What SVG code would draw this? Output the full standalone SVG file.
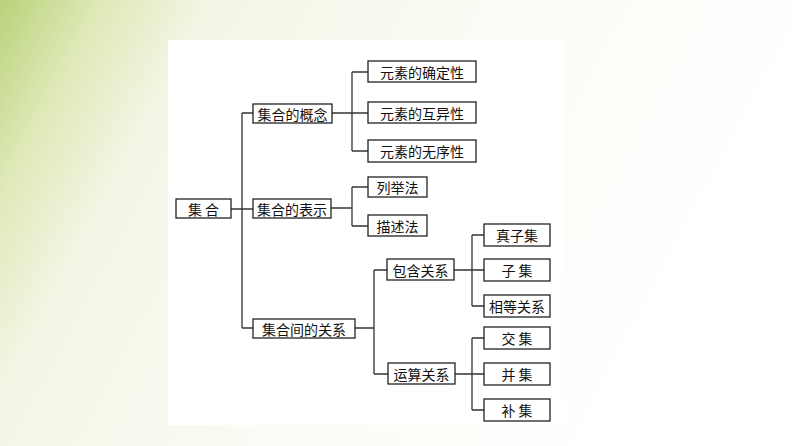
<svg xmlns="http://www.w3.org/2000/svg" width="794" height="446" viewBox="0 0 794 446">
<defs>
<linearGradient id="bg" x1="0" y1="0" x2="1" y2="0.3">
<stop offset="0" stop-color="#b9d27a"/>
<stop offset="0.12" stop-color="#dfe9b8"/>
<stop offset="0.25" stop-color="#f3f6e6"/>
<stop offset="0.6" stop-color="#fbfcf6"/>
<stop offset="1" stop-color="#ffffff"/>
</linearGradient>
<style>
.b{fill:#fff;stroke:#222;stroke-width:1.3}
.t{font-family:"Noto Sans CJK SC",sans-serif;font-size:14px;fill:#111;text-anchor:middle;dominant-baseline:central}
.c{fill:none;stroke:#333;stroke-width:1.3}
</style>
</defs>
<rect width="794" height="446" fill="url(#bg)"/>
<rect x="168" y="40" width="395" height="385" fill="#fff"/>
<g id="connectors" class="c">
<path d="M231 209H253M242 113V328M242 113H253M242 328H253"/>
<path d="M332 113H368M352 72V151M352 72H368M352 151H368"/>
<path d="M331 208H352M352 187V226M352 187H368M352 226H368"/>
<path d="M355 328H374M374 270V374M374 270H387M374 374H388"/>
<path d="M454 270H484M472 235V306M472 235H484M472 306H484"/>
<path d="M455 374H484M472 338V410M472 338H484M472 410H484"/>
</g>
<g id="n0"><rect class="b" x="176" y="199" width="55" height="19"/><text class="t" x="203.5" y="208.5">集 合</text></g>
<g id="n1"><rect class="b" x="253" y="104" width="79" height="19"/><text class="t" x="292.5" y="113.5">集合的概念</text></g>
<g id="n2"><rect class="b" x="253" y="199" width="78" height="19"/><text class="t" x="292" y="208.5">集合的表示</text></g>
<g id="n3"><rect class="b" x="253" y="319" width="102" height="19"/><text class="t" x="304" y="328.5">集合间的关系</text></g>
<g id="n4"><rect class="b" x="368" y="61" width="108" height="21"/><text class="t" x="422" y="71.5">元素的确定性</text></g>
<g id="n5"><rect class="b" x="368" y="102" width="108" height="21"/><text class="t" x="422" y="112.5">元素的互异性</text></g>
<g id="n6"><rect class="b" x="368" y="140" width="108" height="22"/><text class="t" x="422" y="151">元素的无序性</text></g>
<g id="n7"><rect class="b" x="368" y="177" width="59" height="20"/><text class="t" x="397.5" y="187">列举法</text></g>
<g id="n8"><rect class="b" x="368" y="215" width="59" height="21"/><text class="t" x="397.5" y="225.5">描述法</text></g>
<g id="n9"><rect class="b" x="387" y="259" width="67" height="21"/><text class="t" x="420.5" y="269.5">包含关系</text></g>
<g id="n10"><rect class="b" x="388" y="363" width="67" height="21"/><text class="t" x="421.5" y="373.5">运算关系</text></g>
<g id="n11"><rect class="b" x="484" y="224" width="66" height="22"/><text class="t" x="517" y="235">真子集</text></g>
<g id="n12"><rect class="b" x="484" y="259" width="66" height="22"/><text class="t" x="517" y="270">子 集</text></g>
<g id="n13"><rect class="b" x="484" y="295" width="66" height="22"/><text class="t" x="517" y="306">相等关系</text></g>
<g id="n14"><rect class="b" x="484" y="327" width="66" height="22"/><text class="t" x="517" y="338">交 集</text></g>
<g id="n15"><rect class="b" x="484" y="363" width="66" height="22"/><text class="t" x="517" y="374">并 集</text></g>
<g id="n16"><rect class="b" x="484" y="399" width="66" height="22"/><text class="t" x="517" y="410">补 集</text></g>
</svg>
